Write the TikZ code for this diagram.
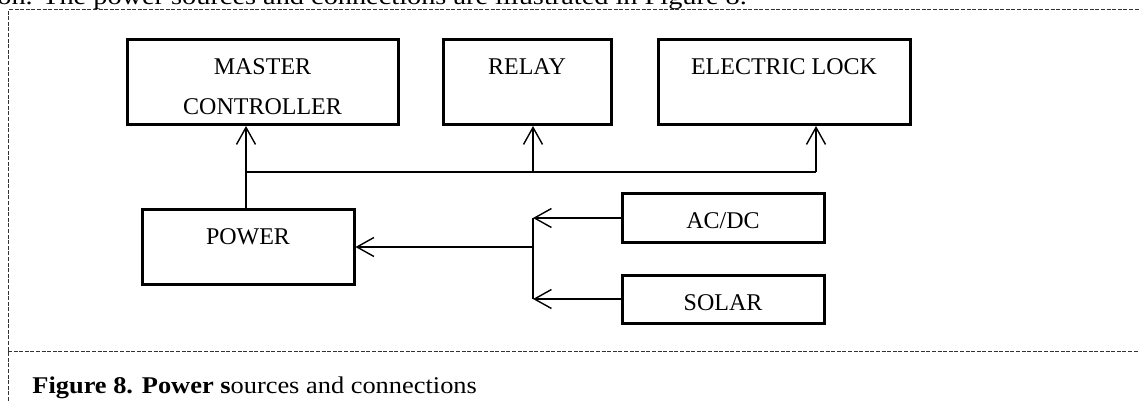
\documentclass[tikz,border=0pt]{standalone}
\usepackage{fontspec}
\setmainfont{Liberation Serif}
\newfontfamily\bodyfont{Liberation Serif}[FakeStretch=1.18]
\newfontfamily\capfont{Liberation Serif}[FakeStretch=1.1]
\usetikzlibrary{arrows.meta}

\begin{document}
\begin{tikzpicture}[
    x=0.5pt, y=-0.5pt,
    block/.style = {draw, line width=1.5pt, inner sep=0pt, anchor=north, align=center,
                    font=\fontsize{12pt}{20pt}\selectfont, text height=17.5pt},
    wire/.style = {line width=0.7pt},
    arrow/.style = {wire, -{Straight Barb[length=8.5pt, width=9.5pt]}},
    % Stile per la cornice tratteggiata
    frame/.style = {line width=0.5pt, dash pattern=on 2pt off 0.8pt, black!80},
    body/.style = {font=\bodyfont\fontsize{12pt}{14pt}\selectfont, inner sep=0pt, anchor=base west}
    ]

    \clip (0,0) rectangle (1139,401);

    % --- Cornice e testo ---
    \draw[frame] (8,401) -- (8,10) -- (1139,10);
    \draw[frame] (8,351) -- (1139,351);
    \node[body] (intro) at (-3,5) {on. The power sources and connections are illustrated in Figure 8.};
    \node[body, font=\capfont\fontsize{12pt}{14pt}\selectfont] (caption) at (32,393) {\textbf{Figure 8. Power s}ources and connections};

    % --- Blocchi ---
    \node[block, minimum width=135.5pt, text height=37.5pt, text depth=5pt] (master) at (262.5,38) {MASTER\\CONTROLLER};
    \node[block, minimum width=84pt, text depth=25pt] (relay) at (527,38) {RELAY};
    \node[block, minimum width=126pt, text depth=25pt] (lock) at (784,38) {ELECTRIC LOCK};
    \node[block, minimum width=106pt, text depth=20pt] (power) at (248,208) {POWER};
    \node[block, minimum width=101pt, text depth=7pt] (acdc) at (723,192) {AC/DC};
    \node[block, minimum width=101pt, text depth=6.5pt] (solar) at (723,274) {SOLAR};

    % --- Linea di alimentazione ---
    \coordinate (jm) at (246,172);
    \coordinate (jr) at (533,172);
    \coordinate (jl) at (816,172);
    \draw[wire] (jm) -- (jl);
    \draw[arrow] (power.north -| jm) -- (master.south -| jm);
    \foreach \n/\j in {relay/jr, lock/jl}
        \draw[arrow] (\j) -- (\n.south -| \j);

    % --- Sorgenti ---
    \coordinate (ja) at (533,218);
    \coordinate (js) at (533,299);
    \draw[wire] (ja) -- (js);
    \draw[arrow] (ja |- power.east) -- (power.east);
    \draw[arrow] (acdc.west |- ja) -- (ja);
    \draw[arrow] (solar.west |- js) -- (js);

\end{tikzpicture}
\end{document}
